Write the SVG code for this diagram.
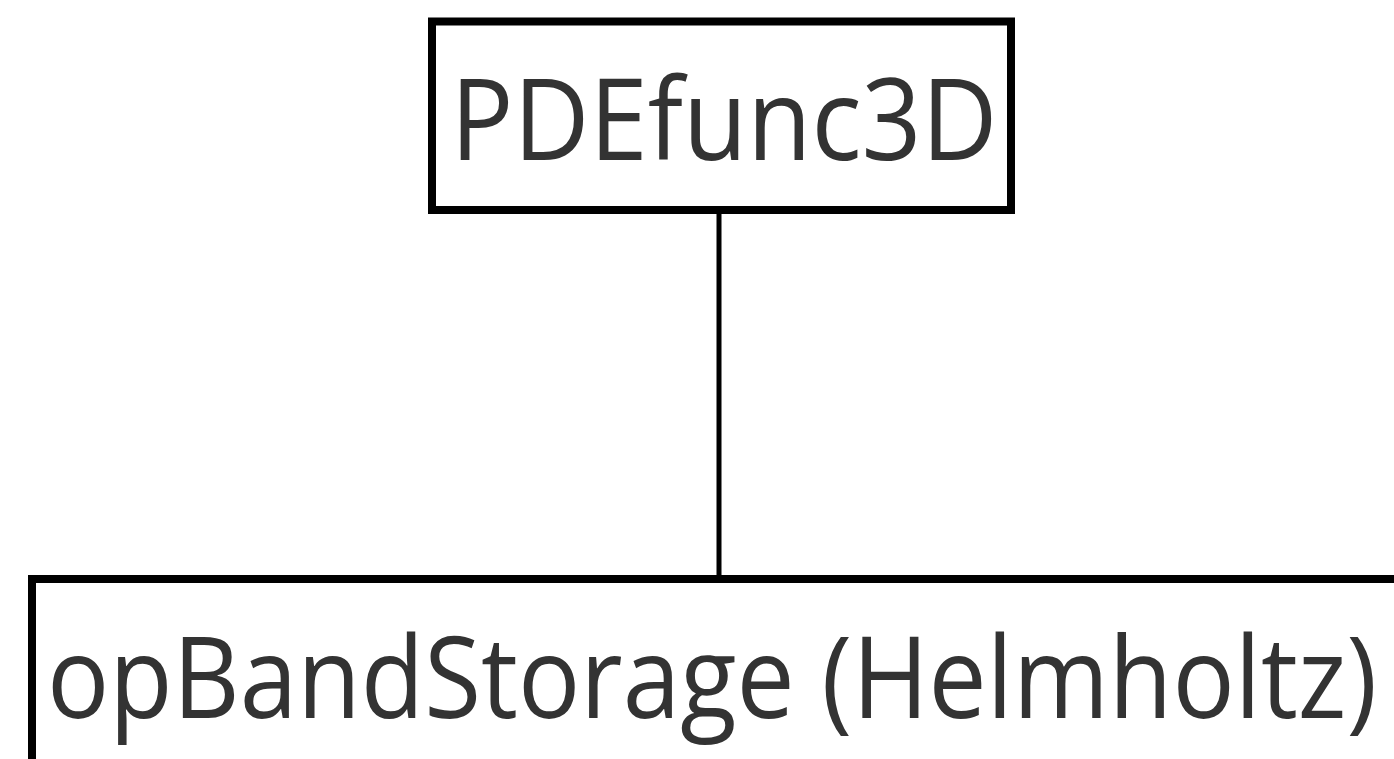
<svg xmlns="http://www.w3.org/2000/svg" width="1394" height="759" viewBox="0 0 1394 759">
<style>
.box{fill:#ffffff;stroke:#000000;stroke-width:8}
.lbl{font-family:"Open Sans","Liberation Sans",sans-serif;font-size:113px;fill:#333333;text-anchor:middle}
.edge{stroke:#000000;stroke-width:5;fill:none}
</style>
<rect x="0" y="0" width="1394" height="759" fill="#ffffff"/>
<g id="connectors">
<line class="edge" x1="719" y1="214" x2="719" y2="583"/>
</g>
<g id="node-PDEfunc3D">
<rect class="box" x="432" y="21.5" width="579" height="188.5"/>
<text class="lbl" x="724" y="160" textLength="547" lengthAdjust="spacingAndGlyphs">PDEfunc3D</text>
</g>
<g id="node-opBandStorage">
<rect class="box" x="32" y="579" width="1400" height="220"/>
<text class="lbl" x="712" y="718" textLength="1330" lengthAdjust="spacingAndGlyphs">opBandStorage (Helmholtz)</text>
</g>
</svg>
